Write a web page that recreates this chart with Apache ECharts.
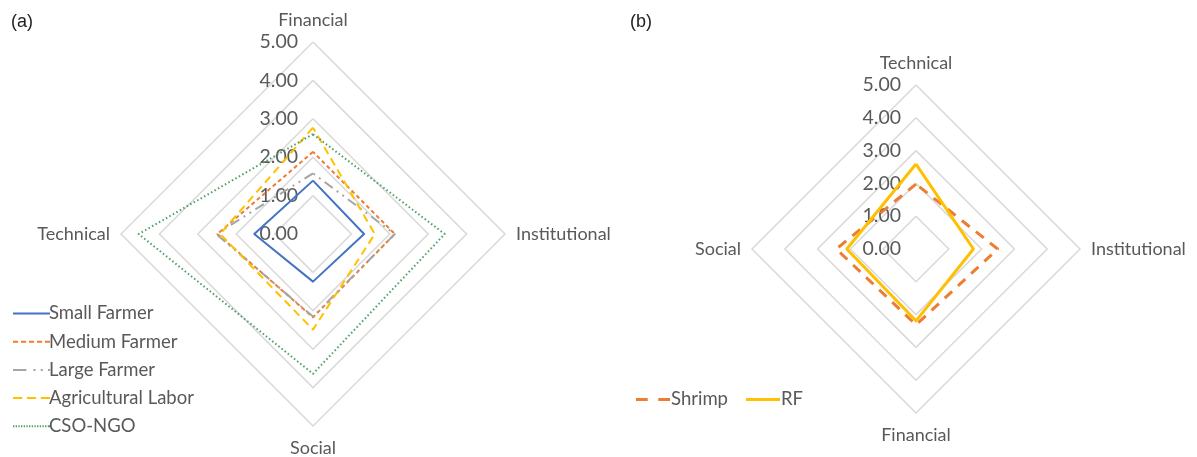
<!DOCTYPE html>
<html>
<head>
<meta charset="utf-8">
<script src="https://cdn.jsdelivr.net/npm/echarts@6/dist/echarts.min.js"></script>
<style>
html,body{margin:0;padding:0;background:#fff;}
#chart{width:1197px;height:457px;}
</style>
</head>
<body>
<div id="chart"></div>
<script>
// ---- Data ----
// Chart (a): indicators listed counter-clockwise from top
const axesA = ['Financial', 'Technical', 'Social', 'Institutional'];
const smallFarmer = [1.39, 1.53, 1.24, 1.33];
const mediumFarmer = [2.14, 2.49, 2.17, 2.13];
const largeFarmer = [1.58, 2.52, 2.15, 2.13];
const agriLabor = [2.77, 2.42, 2.49, 1.61];
const csoNgo = [2.60, 4.54, 3.64, 3.43];

// Chart (b)
const axesB = ['Technical', 'Social', 'Financial', 'Institutional'];
const shrimp = [1.98, 2.43, 2.31, 2.49];
const rf = [2.59, 2.11, 2.19, 1.75];

const axisMax = 5;
const tickInterval = 1;

const FONT = 'Lato';
const TXT = '#595959';

function indicators(names) {
  return names.map((n, i) => {
    const o = { name: n, min: 0, max: axisMax };
    if (i === 0) o.axisLabel = { show: true };
    return o;
  });
}

function radarCfg(names, center, radius) {
  return {
    indicator: indicators(names),
    center: center,
    radius: radius,
    shape: 'polygon',
    splitNumber: axisMax / tickInterval,
    startAngle: 90,
    axisName: { color: TXT, fontFamily: FONT, fontSize: 18, padding: [5, 3, 5, 3] },
    nameGap: 8,
    axisLine: { show: false },
    axisTick: { show: false },
    splitArea: { show: false },
    splitLine: { lineStyle: { color: '#d9d9d9', width: 1.5 } },
    axisLabel: {
      show: false,
      color: TXT, fontFamily: FONT, fontSize: 19.5,
      margin: 15,
      formatter: v => Number(v).toFixed(2)
    }
  };
}

function dashPath(segs, h) {
  return 'path://' + segs.map(s => `M${s[0]},0H${s[0] + s[1]}V${h}H${s[0]}Z`).join(' ');
}
function dotsPath(step, len, total, h) {
  const segs = [];
  for (let x = 0; x + len <= total; x += step) segs.push([x, len]);
  segs.push([total - len, len]);
  return dashPath(segs, h);
}

const iconSolid = 'path://M0,0H36V2H0Z';
const iconMedium = dashPath([[0,5],[7.8,5],[15.5,5],[23.3,5],[31,5]], 2);
const iconLarge = dashPath([[0,13],[20,2],[27,2],[34,2]], 2);
const iconAgri = dashPath([[0,9],[13.5,9],[27,9]], 2);
const iconDots = dotsPath(2.6, 1.3, 36, 2);
const iconShrimp = dashPath([[0,10],[19,10]], 3);
const iconRF = 'path://M0,0H32V3H0Z';

function mkSeries(name, values, radarIndex, color, width, type) {
  return {
    type: 'radar',
    radarIndex: radarIndex,
    name: name,
    symbol: 'none',
    silent: true,
    animation: false,
    lineStyle: { color: color, width: width, type: type },
    itemStyle: { color: color },
    data: [{ value: values, name: name }]
  };
}

const chart = echarts.init(document.getElementById('chart'));
chart.setOption({
  backgroundColor: '#ffffff',
  animation: false,
  title: [
    { text: '(a)', left: 6, top: 8, textStyle: { fontFamily: 'Liberation Sans', fontSize: 18, fontWeight: 'normal', color: '#222' } },
    { text: '(b)', left: 625, top: 8, textStyle: { fontFamily: 'Liberation Sans', fontSize: 18, fontWeight: 'normal', color: '#222' } }
  ],
  legend: [
    {
      orient: 'vertical', left: 8, top: 299, itemGap: 9.2, itemWidth: 37, itemHeight: 2,
      symbolKeepAspect: false,
      textStyle: { color: TXT, fontFamily: FONT, fontSize: 18.5, padding: [0, 0, 0, -6] },
      data: [
        { name: 'Small Farmer', icon: iconSolid, itemStyle: { color: '#4472C4' } },
        { name: 'Medium Farmer', icon: iconMedium, itemStyle: { color: '#ED7D31' } },
        { name: 'Large Farmer', icon: iconLarge, itemStyle: { color: '#A5A5A5' } },
        { name: 'Agricultural Labor', icon: iconAgri, itemStyle: { color: '#FFC000' } },
        { name: 'CSO-NGO', icon: iconDots, itemStyle: { color: '#4e9f62' } }
      ]
    },
    {
      orient: 'horizontal', left: 631, top: 385, itemGap: 18, itemWidth: 34, itemHeight: 3,
      symbolKeepAspect: false,
      textStyle: { color: TXT, fontFamily: FONT, fontSize: 18.5, padding: [0, 0, 0, -4] },
      data: [
        { name: 'Shrimp', icon: iconShrimp, itemStyle: { color: '#ED7D31' } },
        { name: 'RF', icon: iconRF, itemStyle: { color: '#FFC000' } }
      ]
    }
  ],
  radar: [
    radarCfg(axesA, [313, 234], 192),
    radarCfg(axesB, [916, 249], 164)
  ],
  series: [
    mkSeries('Small Farmer', smallFarmer, 0, '#4472C4', 2, 'solid'),
    mkSeries('Medium Farmer', mediumFarmer, 0, '#ED7D31', 2, [4, 3]),
    mkSeries('Large Farmer', largeFarmer, 0, '#A5A5A5', 2, [10, 5, 2, 5, 2, 5]),
    mkSeries('Agricultural Labor', agriLabor, 0, '#FFC000', 2, [8, 5]),
    mkSeries('CSO-NGO', csoNgo, 0, '#4e9f62', 2, [1.5, 2.5]),
    mkSeries('Shrimp', shrimp, 1, '#ED7D31', 3, [10, 8]),
    mkSeries('RF', rf, 1, '#FFC000', 3, 'solid')
  ]
});
</script>
</body>
</html>
